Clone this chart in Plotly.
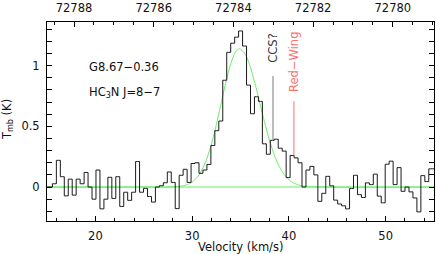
import plotly.graph_objects as go

# ---------------- data ----------------
# Spectrum: HC3N J=8-7 towards G8.67-0.36 (main-beam temperature per channel)
FIRST_CHANNEL_V = 14.944      # km/s, centre of first channel
CHANNEL_WIDTH = 0.4095        # km/s
T_MB = [
    0.0, 0.0, 0.027, 0.22, 0.085, -0.073, 0.065, -0.067, 0.065, 0.027,
    0.12, 0.0, -0.10, 0.14, -0.18, -0.10, 0.08, -0.094, 0.085, -0.16,
    -0.043, -0.11, -0.043, 0.21, -0.043, -0.011, -0.078, -0.124, 0.0, 0.011,
    0.035, 0.124, 0.038, -0.178, 0.097, 0.146, 0.038, 0.194, 0.20, 0.113,
    0.14, 0.186, 0.342, 0.464, 0.544, 0.88, 1.11, 1.185, 1.235, 1.286,
    1.162, 0.84, 0.604, 0.744, 0.706, 0.356, 0.27, 0.385, 0.394, 0.32,
    0.296, 0.078, 0.26, 0.24, 0.2, 0.0, 0.14, 0.17, 0.10, -0.118,
    -0.052, 0.088, 0.01, -0.108, -0.14, -0.155, -0.18, -0.013, 0.097, -0.063,
    -0.086, 0.034, 0.02, 0.106, -0.075, -0.13, 0.188, 0.213, 0.02, 0.16,
    -0.035, 0.0, -0.04, -0.09, -0.205, 0.094, 0.045, 0.15, 0.15,
]
velocity = [FIRST_CHANNEL_V + CHANNEL_WIDTH * i for i in range(len(T_MB))]

# Gaussian fit (green)
FIT_V = [15.0, 27.0, 27.5, 28.0, 28.5, 29.0, 29.5, 30.0, 30.5, 31.0, 31.5, 32.0,
         32.5, 33.0, 33.5, 34.0, 34.5, 34.9, 35.5, 36.0, 36.5, 37.0, 37.5,
         38.0, 38.5, 39.0, 39.5, 40.0, 40.5, 41.0, 41.5, 42.0, 42.5, 43.5, 55.0]
FIT_T = [0.0, 0.0, 0.001, 0.002, 0.004, 0.009, 0.020, 0.041, 0.078, 0.139, 0.230,
         0.356, 0.513, 0.691, 0.869, 1.019, 1.115, 1.14, 1.094, 0.994, 0.853,
         0.691, 0.530, 0.383, 0.262, 0.170, 0.104, 0.060, 0.033, 0.017, 0.008,
         0.004, 0.002, 0.0, 0.0]

# Marked features
FEATURE_LABELS = ["CCS?", "Red\u2212Wing"]
FEATURE_V = [38.36, 40.52]
FEATURE_TOP = [0.915, 0.705]
FEATURE_BOTTOM = [0.39, 0.26]
FEATURE_LINE_COLORS = ["#7a7a7a", "#ff7070"]
FEATURE_TEXT_COLORS = ["#3a3a3a", "#ff7070"]
FEATURE_LABEL_T = [1.14, 1.03]

SOURCE = "G8.67\u22120.36"
LINE_NAME = "HC<sub>3</sub>N J=8\u22127"

# Frequency axis (top)
REST_FREQ = 72783.822   # MHz
V_SYS = 35.0            # km/s
C_KMS = 299792.458
FREQ_TICKS = [72788, 72786, 72784, 72782, 72780]

V_RANGE = [15.0, 55.0]
T_RANGE = [-0.28, 1.36]
V_TICKS = [20, 30, 40, 50]
T_TICKS = [0, 0.5, 1]
T_TICKTEXT = ["0", "0.5", "1"]


def v_to_f(v):
    return REST_FREQ - (v - V_SYS) * REST_FREQ / C_KMS


FONT = "DejaVu Sans"
FS = 11.5

fig = go.Figure()

fig.add_trace(go.Scatter(
    x=[V_RANGE[0] - 1, V_RANGE[1] + 1], y=[0, 0], mode="lines",
    line=dict(color="#66ee66", width=1), hoverinfo="skip"))
fig.add_trace(go.Scatter(
    x=FIT_V, y=FIT_T, mode="lines", line=dict(color="#66ee66", width=1, shape="spline", smoothing=0.6),
    hoverinfo="skip"))
fig.add_trace(go.Scatter(
    x=velocity, y=T_MB, mode="lines", line=dict(color="#1a1a1a", width=1, shape="hvh"),
    hoverinfo="skip"))

for lab, v, top, bot, lcol, tcol, lt in zip(FEATURE_LABELS, FEATURE_V, FEATURE_TOP,
                                             FEATURE_BOTTOM, FEATURE_LINE_COLORS,
                                             FEATURE_TEXT_COLORS, FEATURE_LABEL_T):
    fig.add_trace(go.Scatter(x=[v, v], y=[bot, top], mode="lines",
                             line=dict(color=lcol, width=1), hoverinfo="skip"))
    fig.add_annotation(x=v, y=lt, xref="x", yref="y", text=lab, textangle=-90,
                       showarrow=False, font=dict(family=FONT, size=FS, color=tcol),
                       xanchor="center", yanchor="middle")

# invisible trace to activate top axis
fig.add_trace(go.Scatter(x=[v_to_f(V_RANGE[0])], y=[0], xaxis="x2", mode="markers",
                         marker=dict(opacity=0), hoverinfo="skip"))

fig.add_annotation(x=23.0, y=0.99, xref="x", yref="y", text=SOURCE, showarrow=False,
                   font=dict(family=FONT, size=FS, color="#111"), xanchor="center", yanchor="middle")
fig.add_annotation(x=23.0, y=0.775, xref="x", yref="y", text=LINE_NAME, showarrow=False,
                   font=dict(family=FONT, size=FS, color="#111"), xanchor="center", yanchor="middle")

fig.add_annotation(x=0.5, y=-0.132, xref="paper", yref="paper", text="Velocity (km/s)",
                   showarrow=False, font=dict(family=FONT, size=FS, color="#111"),
                   xanchor="center", yanchor="middle")
fig.add_annotation(x=-0.102, y=0.51, xref="paper", yref="paper", text="T<sub>mb</sub> (K)",
                   textangle=-90, showarrow=False, font=dict(family=FONT, size=FS, color="#111"),
                   xanchor="center", yanchor="middle")

axis_common = dict(showgrid=False, zeroline=False, showline=True, linecolor="black",
                   linewidth=1, ticks="inside", tickcolor="black", tickwidth=1,
                   tickfont=dict(family=FONT, size=FS, color="#111"))

fig.update_layout(
    width=436, height=254,
    margin=dict(l=47, r=1, t=18, b=33),
    paper_bgcolor="white", plot_bgcolor="white",
    showlegend=False,
    hovermode=False,
    xaxis=dict(range=V_RANGE, tickvals=V_TICKS, ticklen=5, mirror=True,
               ticklabelstandoff=4,
               minor=dict(dtick=2, tick0=0, ticklen=3, ticks="inside", tickcolor="black"),
               **axis_common),
    xaxis2=dict(range=[v_to_f(V_RANGE[0]), v_to_f(V_RANGE[1])], overlaying="x", side="top",
                tickvals=FREQ_TICKS, tickformat="d", ticklen=5, anchor="y",
                ticklabelstandoff=4,
                minor=dict(dtick=0.5, tick0=0, ticklen=3, ticks="inside", tickcolor="black"),
                **axis_common),
    yaxis=dict(range=T_RANGE, tickvals=T_TICKS, ticktext=T_TICKTEXT, ticklen=5,
               mirror="allticks", ticklabelstandoff=4,
               minor=dict(dtick=0.1, tick0=0, ticklen=3, ticks="inside", tickcolor="black"),
               **axis_common),
)

fig.write_html("out.html", config={"displayModeBar": False, "staticPlot": True},
               post_script="document.body.style.margin='0';document.body.style.overflow='hidden';")
